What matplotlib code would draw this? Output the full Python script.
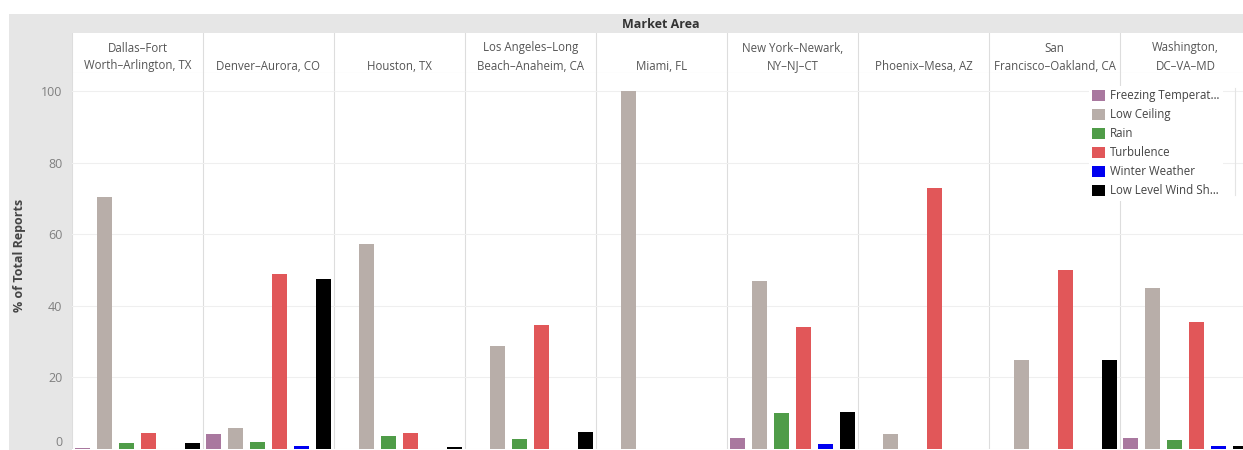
import numpy as np
import matplotlib.pyplot as plt
from matplotlib.patches import Rectangle

plt.rcParams['font.family'] = ['Open Sans', 'DejaVu Sans']

markets = ['Dallas–Fort\nWorth–Arlington, TX', 'Denver–Aurora, CO', 'Houston, TX',
           'Los Angeles–Long\nBeach–Anaheim, CA', 'Miami, FL', 'New York–Newark,\nNY–NJ–CT',
           'Phoenix–Mesa, AZ', 'San\nFrancisco–Oakland, CA', 'Washington,\nDC–VA–MD']

# % of total reports per market, one list per condition
freezing = [0.4, 4.2, 0, 0, 0, 3.0, 0, 0, 3.0]
low_ceiling = [70.4, 6.0, 57.3, 28.8, 100, 46.9, 4.2, 24.9, 45.0]
rain = [1.6, 2.0, 3.7, 2.7, 0, 10.0, 0, 0, 2.5]
turbulence = [4.4, 48.9, 4.6, 34.6, 0, 34.1, 72.9, 50.0, 35.5]
winter = [0, 0.9, 0, 0, 0, 1.4, 0, 0, 0.8]
llws = [1.6, 47.5, 0.5, 4.7, 0, 10.4, 0, 24.9, 0.8]

series = [freezing, low_ceiling, rain, turbulence, winter, llws]
names = ['Freezing Temperat…', 'Low Ceiling', 'Rain', 'Turbulence',
         'Winter Weather', 'Low Level Wind Sh…']
colors = ['#a9789f', '#b8aea9', '#4f9c48', '#e15759', '#0000f0', '#000000']

W, H = 1243, 450
fig = plt.figure(figsize=(W / 100, H / 100), dpi=100)

def fx(px):
    return px / W

def fy(py):
    return 1 - py / H

# gray header band and left axis column
fig.patches.append(Rectangle((fx(9), fy(33)), fx(W - 9), 19 / H, transform=fig.transFigure,
                             facecolor='#e6e6e6', edgecolor='none', zorder=-1))
fig.patches.append(Rectangle((fx(9), 0), fx(63), fy(14), transform=fig.transFigure,
                             facecolor='#e6e6e6', edgecolor='none', zorder=-1))

fig.text(fx(661), fy(24), 'Market Area', ha='center', va='center', fontsize=9,
         fontweight='bold', color='#333333')
fig.text(fx(20), fy(255), '% of Total Reports', ha='center', va='center', rotation=90,
         fontsize=9, fontweight='bold', color='#444444')

n = len(markets)
panel_w = 131
left_px, right_px = 72, 72 + panel_w * n

# header row
hax = fig.add_axes([fx(left_px), fy(73), fx(right_px - left_px), 40 / H])
hax.set_xlim(0, n)
hax.set_ylim(40, 0)
hax.axis('off')
for i, m in enumerate(markets):
    lines = m.split('\n')
    if len(lines) == 1:
        lines = [''] + lines
    hax.text(i + 0.5, 15, lines[0], ha='center', va='center', fontsize=8.3, color='#555555')
    hax.text(i + 0.5, 33, lines[1], ha='center', va='center', fontsize=8.3, color='#555555')
    hax.axvline(i, color='#dddddd', lw=0.8)
hax.axhline(40, color='#e0e0e0', lw=0.8)

# bars
ax = fig.add_axes([fx(left_px), fy(449), fx(right_px - left_px), 376 / H])
ax.set_xlim(0, n)
ax.set_ylim(0, 105)
x = np.arange(n)
k = len(series)
bw = 0.115
for j, (vals, name, c) in enumerate(zip(series, names, colors)):
    ax.bar(x + (j + 0.5) / k, vals, width=bw, color=c, label=name, linewidth=0, zorder=3)

for i in range(n + 1):
    ax.axvline(i, color='#dddddd', lw=0.8, zorder=1)
ax.set_yticks([0, 20, 40, 60, 80, 100])
ax.yaxis.grid(True, color='#efefef', lw=0.8, zorder=0)
ax.tick_params(axis='y', length=0, labelsize=9, labelcolor='#808080', pad=7)
ax.tick_params(axis='x', length=0, labelbottom=False)
ax.get_yticklabels()[0].set_va('bottom')
for s in ax.spines.values():
    s.set_visible(False)

leg = ax.legend(loc='upper left', bbox_to_anchor=(fx(1089), fy(86)),
                bbox_transform=fig.transFigure, fontsize=8.3, frameon=True,
                handlelength=1.05, handleheight=1.05, handletextpad=0.5,
                labelspacing=0.52, borderpad=0.3, borderaxespad=0)
leg.get_frame().set_facecolor('white')
leg.get_frame().set_edgecolor('none')
leg.get_frame().set_alpha(1)
for t in leg.get_texts():
    t.set_color('#444444')
leg.set_zorder(5)

fig.add_artist(plt.Line2D([fx(1235), fx(1235)], [fy(88), fy(195)],
                          transform=fig.transFigure, color='#e4e4e4', lw=0.8))

fig.savefig('out.png', dpi=100)
